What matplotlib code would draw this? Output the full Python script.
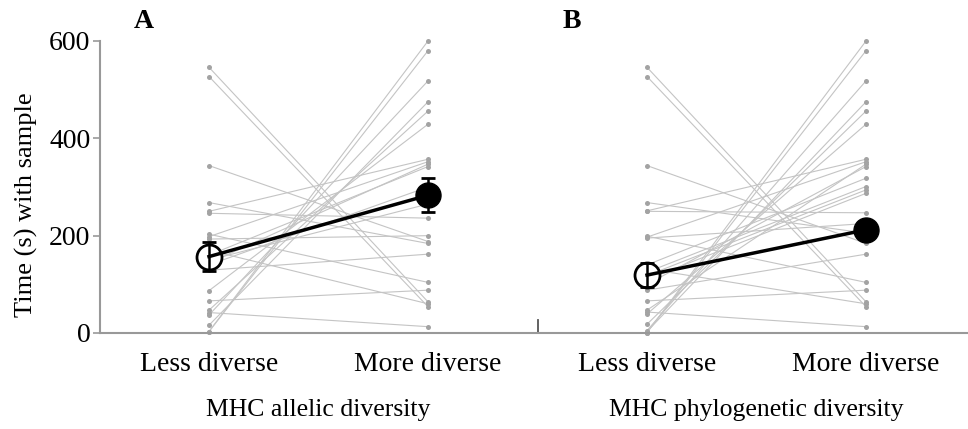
import numpy as np
import matplotlib.pyplot as plt

plt.rcParams['font.family'] = ['Liberation Serif', 'DejaVu Serif']

# Tiempo (s) con cada muestra, un individuo por fila (menos diverso -> más diverso)
alelica_menos = [546, 527, 344, 268, 250, 246, 203, 198, 193, 170, 160, 150,
                 144, 140, 129, 87, 66, 47, 42, 37, 16, 3, 3]
alelica_mas = [64, 54, 188, 184, 357, 236, 104, 352, 200, 60, 342, 265,
               347, 300, 162, 429, 88, 456, 13, 518, 475, 580, 600]

filo_menos = [546, 527, 344, 268, 251, 250, 199, 197, 195, 140, 132, 125,
              118, 110, 100, 88, 66, 47, 43, 39, 18, 5, 3, 1, 1]
filo_mas = [64, 54, 184, 205, 357, 247, 104, 352, 225, 318, 60, 301,
            294, 287, 342, 162, 88, 347, 13, 429, 456, 518, 475, 580, 600]

# Medias estimadas y error estándar (menos, más)
alelica_media = [157, 283]
alelica_ee = [30, 35]
filo_media = [119, 212]
filo_ee = [25, 12]

categorias = ['Less diverse', 'More diverse']
titulos = ['MHC allelic diversity', 'MHC phylogenetic diversity']
letras = ['A', 'B']
yticks = [0, 200, 400, 600]

fig = plt.figure(figsize=(9.68, 4.29), dpi=100)
ax = fig.add_axes([100 / 968, 96 / 429, 868 / 968, 292 / 429])

paneles = [
    (alelica_menos, alelica_mas, alelica_media, alelica_ee),
    (filo_menos, filo_mas, filo_media, filo_ee),
]

for i, (menos, mas, media, ee) in enumerate(paneles):
    x0, x1 = 1 + 2 * i, 2 + 2 * i

    # líneas individuales
    for a, b in zip(menos, mas):
        ax.plot([x0, x1], [a, b], color='#c4c4c4', lw=0.8, zorder=1)
    ax.plot([x0] * len(menos), menos, 'o', color='#a3a3a3', ms=3.6,
            mec='none', zorder=2, clip_on=False)
    ax.plot([x1] * len(mas), mas, 'o', color='#a3a3a3', ms=3.6,
            mec='none', zorder=2, clip_on=False)

    # medias con error estándar
    ax.plot([x0], [media[0]], 'o', ms=18, mfc='white', mec='black', mew=2,
            zorder=3)
    ax.plot([x1], [media[1]], 'o', ms=18, mfc='black', mec='black', zorder=3)
    ax.plot([x0, x1], media, color='black', lw=2.5, zorder=4)
    ax.errorbar([x0, x1], media, yerr=ee, fmt='none', ecolor='black',
                elinewidth=1.8, capsize=5, capthick=2, zorder=5)

    # etiqueta del grupo y letra del panel
    ax.text((x0 + x1) / 2, -0.265, titulos[i], transform=ax.get_xaxis_transform(),
            ha='center', va='center', fontsize=18.5)
    fig.text((144 + 428 * i) / 968, 1 - 22 / 429, letras[i], ha='center',
             va='center', fontsize=20, fontweight='bold')

# eje del panel B (solo un trazo corto)
ax.plot([2.5, 2.5], [0, 27], color='#555555', lw=1.3, zorder=1)

ax.set_xlim(1 - 109 / 219, 1 + 759 / 219)
ax.set_ylim(0, 600)
ax.set_xticks([1, 2, 3, 4])
ax.set_xticklabels(categorias * 2, fontsize=20)
ax.set_yticks(yticks)
ax.set_yticklabels([str(v) for v in yticks], fontsize=20)
ax.tick_params(axis='x', length=0, pad=14)
ax.tick_params(axis='y', length=5, width=1.2, color='#999999', pad=2)
ax.set_ylabel('Time (s) with sample', fontsize=19)
ax.yaxis.set_label_coords(-62 / 868, 128 / 292)

for lado in ['top', 'right']:
    ax.spines[lado].set_visible(False)
for lado in ['left', 'bottom']:
    ax.spines[lado].set_color('#999999')
    ax.spines[lado].set_linewidth(1.5)

plt.savefig('out.png', dpi=100)
